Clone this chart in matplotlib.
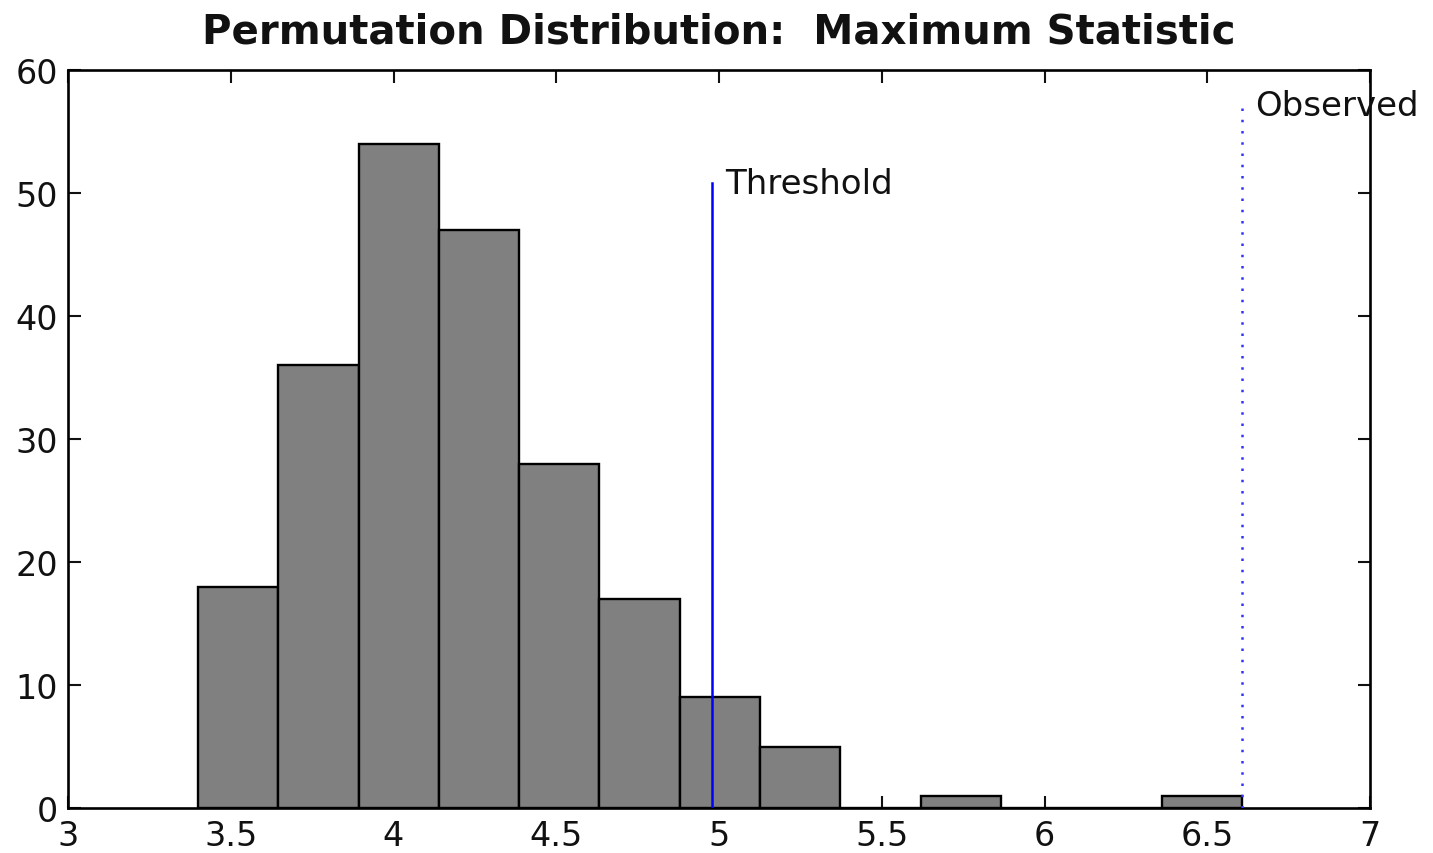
import numpy as np
import matplotlib
matplotlib.use("Agg")
import matplotlib.pyplot as plt

# Data
counts = [18, 36, 54, 47, 28, 17, 9, 5, 0, 1, 0, 0, 1]
bin_min = 3.399
bin_max = 6.607
threshold = 4.978
observed = 6.607
threshold_top = 50.8
observed_top = 57.2
x_ticks = [3, 3.5, 4, 4.5, 5, 5.5, 6, 6.5, 7]
x_ticklabels = ["3", "3.5", "4", "4.5", "5", "5.5", "6", "6.5", "7"]
y_ticks = [0, 10, 20, 30, 40, 50, 60]

edges = np.linspace(bin_min, bin_max, len(counts) + 1)
widths = np.diff(edges)

plt.rcParams['font.family'] = ['DejaVu Sans']
fig = plt.figure(figsize=(14.33, 8.54), dpi=100)
ax = fig.add_axes([68/1433, 1 - 809/854, (1370-68)/1433, (809-71)/854])

ax.bar(edges[:-1], counts, width=widths, align='edge', color='#808080',
       edgecolor='black', linewidth=1.7, zorder=2)

ax.plot([threshold, threshold], [0, threshold_top], color='#0000ff', linewidth=1.8, zorder=3)
ax.plot([observed, observed], [0, observed_top], color='#3333ff', linewidth=1.8,
        linestyle=(0, (1, 3.5)), zorder=3)
ax.text(threshold + 0.04, threshold_top, "Threshold", fontsize=24.5, va='center', ha='left',
        color='#111111')
ax.text(observed + 0.04, observed_top - 0.1, "Observed", fontsize=24.5, va='center', ha='left',
        color='#111111', clip_on=False)

ax.set_xlim(3, 7)
ax.set_ylim(0, 60)
ax.set_xticks(x_ticks)
ax.set_xticklabels(x_ticklabels)
ax.set_yticks(y_ticks)
ax.tick_params(direction='in', length=9, width=1.5, top=True, right=True,
               labelsize=24, colors='#111111')
ax.tick_params(axis='x', pad=8)
ax.tick_params(axis='y', pad=7)
for s in ax.spines.values():
    s.set_linewidth(1.9)

ax.set_title("Permutation Distribution:  Maximum Statistic", fontsize=29,
             fontweight='bold', pad=20, color='#111111')

fig.savefig("out.png", dpi=100)
